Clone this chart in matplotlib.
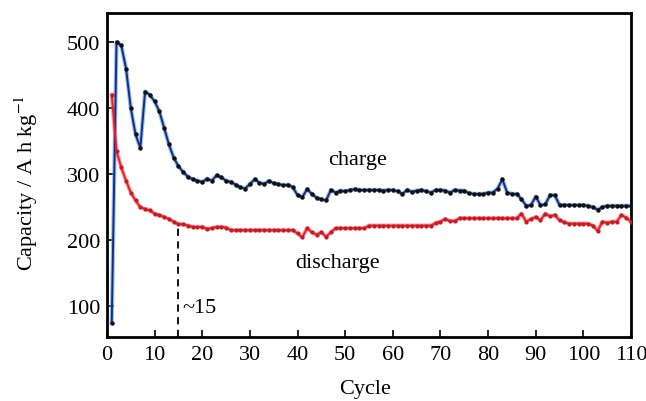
import numpy as np
import matplotlib.pyplot as plt

# cycles 1..110
cycles = np.arange(1, 111)

charge = [75, 500, 495, 460, 400, 360, 340, 425, 420, 410,
          395, 370, 345, 325, 312, 303, 296, 292, 290, 288,
          293, 290, 298, 295, 290, 288, 284, 280, 278, 285,
          292, 287, 285, 290, 286, 285, 283, 284, 280, 268,
          265, 277, 270, 264, 262, 260, 276, 272, 275, 274,
          276, 277, 276, 276, 276, 276, 276, 275, 276, 276,
          274, 270, 276, 273, 275, 276, 274, 272, 276, 276,
          275, 272, 276, 275, 275, 271, 270, 270, 270, 272,
          272, 278, 292, 272, 270, 270, 262, 252, 253, 266,
          253, 254, 268, 268, 253, 253, 253, 253, 253, 253,
          252, 250, 246, 250, 252, 252, 252, 252, 252, 252]

discharge = [420, 335, 310, 290, 272, 260, 250, 247, 245, 240,
             238, 235, 232, 228, 224, 224, 222, 220, 220, 220,
             217, 218, 220, 220, 219, 215, 215, 215, 215, 215,
             215, 215, 215, 215, 215, 215, 215, 215, 215, 210,
             204, 218, 212, 208, 212, 205, 212, 218, 218, 218,
             218, 218, 218, 218, 222, 222, 222, 222, 222, 222,
             222, 222, 222, 222, 222, 222, 222, 222, 226, 228,
             232, 229, 229, 233, 233, 233, 233, 233, 233, 233,
             233, 233, 233, 233, 233, 233, 240, 228, 232, 235,
             230, 240, 236, 238, 230, 227, 225, 225, 225, 225,
             225, 222, 214, 228, 226, 228, 228, 238, 234, 228]

xticks = [0, 10, 20, 30, 40, 50, 60, 70, 80, 90, 100, 110]
yticks = [100, 200, 300, 400, 500]

plt.rcParams['font.family'] = ['Liberation Serif', 'DejaVu Serif']
plt.rcParams['mathtext.fontset'] = 'stix'

fig = plt.figure(figsize=(6.46, 4.02), dpi=100)
ax = fig.add_axes([0.1656, 0.159, 0.8112, 0.806])

# light blue halo under the charge curve
ax.plot(cycles, charge, color='#4a9be8', lw=3.0, alpha=0.6, zorder=2)
ax.plot(cycles, charge, color='#1c2a7a', lw=1.4, marker='o', ms=2.2,
        mfc='#111111', mec='#111111', zorder=3)
ax.plot(cycles, discharge, color='#ff4a55', lw=3.0, alpha=0.5, zorder=2)
ax.plot(cycles, discharge, color='#e8202a', lw=1.4, marker='o', ms=2.0,
        mfc='#c81a22', mec='#c81a22', zorder=3)

ax.plot([15, 15], [53, discharge[14]], color='black', lw=1.3, ls=(0, (4, 3)))
ax.text(15.8, 98, '~15', fontsize=16, va='center', ha='left')
ax.text(52.5, 322, 'charge', fontsize=16, va='center', ha='center')
ax.text(48.5, 166, 'discharge', fontsize=16, va='center', ha='center')

ax.set_xlim(0, 110)
ax.set_ylim(53, 544)
ax.set_xticks(xticks)
ax.set_yticks(yticks)
ax.tick_params(direction='in', length=5, width=1.2, labelsize=16)
ax.tick_params(axis='x', pad=6)
ax.tick_params(axis='y', pad=5)
for s in ax.spines.values():
    s.set_linewidth(2)

ax.set_xlabel('Cycle', fontsize=16, va='center')
ax.xaxis.set_label_coords(0.492, -0.158)
ax.set_ylabel(r'Capacity / A h kg$^{-1}$', fontsize=16, va='center')
ax.yaxis.set_label_coords(-0.155, 0.478)

fig.savefig('out.png', dpi=100)
